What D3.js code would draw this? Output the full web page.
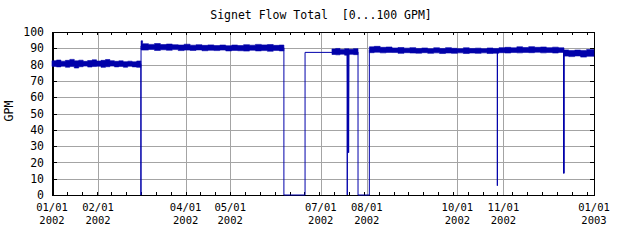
<!DOCTYPE html>
<html>
<head>
<meta charset="utf-8">
<script src="https://cdn.jsdelivr.net/npm/d3@7"></script>
<style>
body { margin: 0; background: #fff; }
text { font-family: "DejaVu Sans Mono", monospace; font-size: 11.5px; fill: #000; }
text.date { font-size: 10.5px; }
</style>
</head>
<body>
<div id="chart"></div>
<script>
var title = "Signet Flow Total  [0...100 GPM]";
var yLabel = "GPM";
var yTicks = [0, 10, 20, 30, 40, 50, 60, 70, 80, 90, 100];
var xLabelDates = ["2002-01-01", "2002-02-01", "2002-04-01", "2002-05-01", "2002-07-01",
                   "2002-08-01", "2002-10-01", "2002-11-01", "2003-01-01"];

// noisy envelope of each running period: [date, low, high]
var bandA = [
    ["2002-01-01", 78.9, 82.4], ["2002-01-04", 78.6, 82.8], ["2002-01-07", 79.0, 82.1],
    ["2002-01-10", 78.4, 82.6], ["2002-01-13", 78.8, 83.2], ["2002-01-16", 77.9, 82.3],
    ["2002-01-19", 78.7, 82.7], ["2002-01-22", 79.1, 82.0], ["2002-01-25", 78.5, 82.5],
    ["2002-01-28", 78.8, 82.9], ["2002-01-31", 79.0, 82.2], ["2002-02-03", 78.3, 82.6],
    ["2002-02-06", 78.7, 83.1], ["2002-02-09", 79.1, 82.4], ["2002-02-12", 78.6, 82.0],
    ["2002-02-15", 78.9, 82.3], ["2002-02-18", 78.4, 81.8], ["2002-02-21", 79.0, 82.1],
    ["2002-02-24", 78.6, 81.7], ["2002-02-27", 78.3, 82.2], ["2002-03-01 20", 78.3, 82.2]
];
var bandB = [
    ["2002-03-01 23", 89.0, 94.6], ["2002-03-03", 88.9, 92.8], ["2002-03-07", 89.3, 92.4],
    ["2002-03-11", 88.7, 92.9], ["2002-03-15", 89.1, 92.3], ["2002-03-19", 88.8, 92.6],
    ["2002-03-23", 89.2, 92.2], ["2002-03-27", 88.6, 92.0], ["2002-03-31", 88.9, 92.5],
    ["2002-04-04", 88.7, 91.9], ["2002-04-08", 89.0, 92.2], ["2002-04-12", 88.5, 91.8],
    ["2002-04-16", 88.8, 92.1], ["2002-04-20", 88.6, 91.7], ["2002-04-24", 88.9, 92.0],
    ["2002-04-28", 88.4, 91.6], ["2002-05-02", 88.7, 92.0], ["2002-05-06", 88.5, 91.7],
    ["2002-05-10", 88.3, 92.2], ["2002-05-14", 88.8, 91.9], ["2002-05-18", 88.4, 92.4],
    ["2002-05-22", 88.6, 92.1], ["2002-05-26", 88.2, 92.3], ["2002-05-30", 88.7, 91.8],
    ["2002-06-03", 88.4, 92.0], ["2002-06-06 04", 88.4, 92.0]
];
var bandC = [
    ["2002-07-08 13", 86.2, 89.6], ["2002-07-11", 86.0, 89.9], ["2002-07-14", 86.4, 89.3],
    ["2002-07-17", 85.8, 89.7], ["2002-07-20", 86.3, 89.4], ["2002-07-23", 86.1, 89.8],
    ["2002-07-26 02", 86.1, 89.8]
];
var bandD = [
    ["2002-08-02 17", 87.3, 90.9], ["2002-08-06", 87.6, 91.2], ["2002-08-10", 87.2, 90.6],
    ["2002-08-14", 87.5, 90.8], ["2002-08-18", 87.4, 90.2], ["2002-08-22", 86.9, 90.5],
    ["2002-08-26", 87.3, 90.1], ["2002-08-30", 87.1, 90.4], ["2002-09-03", 87.0, 89.9],
    ["2002-09-07", 87.3, 90.2], ["2002-09-11", 86.9, 89.8], ["2002-09-15", 87.2, 90.3],
    ["2002-09-19", 86.8, 89.9], ["2002-09-23", 87.1, 90.4], ["2002-09-27", 86.9, 90.0],
    ["2002-10-01", 87.2, 89.8], ["2002-10-05", 86.8, 90.3], ["2002-10-09", 87.1, 89.9],
    ["2002-10-13", 86.9, 90.1], ["2002-10-17", 87.2, 89.8], ["2002-10-21", 86.8, 90.2],
    ["2002-10-25", 87.0, 89.9], ["2002-10-29", 87.3, 90.4], ["2002-11-02", 87.1, 90.6],
    ["2002-11-06", 87.4, 90.3], ["2002-11-10", 87.2, 90.9], ["2002-11-14", 87.5, 90.5],
    ["2002-11-18", 87.3, 91.0], ["2002-11-22", 87.6, 90.6], ["2002-11-26", 87.2, 90.8],
    ["2002-11-30", 87.4, 90.4], ["2002-12-04", 87.1, 90.7], ["2002-12-08", 87.5, 90.3],
    ["2002-12-11 19", 87.5, 90.3]
];
var bandE = [
    ["2002-12-11 19", 85.2, 89.0], ["2002-12-15", 84.9, 88.6], ["2002-12-19", 85.3, 88.9],
    ["2002-12-23", 84.6, 88.7], ["2002-12-27", 85.1, 89.2], ["2003-01-01", 85.1, 89.2]
];

// trend line with shutdowns and dropouts: [date, GPM]
var flowLine = [
    ["2002-01-01", 80.5], ["2002-03-01 20", 80.5], ["2002-03-01 20", 0],
    ["2002-03-01 23", 0], ["2002-03-01 23", 91.5], ["2002-06-06 04", 90.3],
    ["2002-06-06 04", 0], ["2002-06-20 10", 0], ["2002-06-20 10", 87.5],
    ["2002-07-08 13", 87.5], ["2002-07-18 20", 87.8], ["2002-07-18 20", 0],
    ["2002-07-18 21", 87.8], ["2002-07-19 06", 26], ["2002-07-19 12", 87.8],
    ["2002-07-19 18", 26], ["2002-07-20 00", 87.8], ["2002-07-26 02", 87.8],
    ["2002-07-26 02", 0], ["2002-08-02 17", 0], ["2002-08-02 17", 89.0],
    ["2002-10-27 22", 88.6], ["2002-10-27 22", 5.7], ["2002-10-27 23", 88.6],
    ["2002-12-11 12", 88.9], ["2002-12-11 13", 13.3], ["2002-12-11 16", 87.0],
    ["2002-12-11 19", 13.3], ["2002-12-11 20", 87.0], ["2003-01-01", 87.0]
];

var parseDay = d3.utcParse("%Y-%m-%d"), parseHour = d3.utcParse("%Y-%m-%d %H");
function parse(s) { return s.length > 10 ? parseHour(s) : parseDay(s); }

var width = 640, height = 240;
var plot = {left: 52, right: 594, top: 32, bottom: 195};
var start = parse("2002-01-01"), end = parse("2003-01-01");

var x = d3.scaleUtc().domain([start, end]).range([plot.left, plot.right]);
var y = d3.scaleLinear().domain([0, 100]).range([plot.bottom, plot.top]);

var svg = d3.select('#chart')
    .append('svg')
    .attr('width', width)
    .attr('height', height)
    .style('background', '#fff');

var blue = '#0000aa';

// grid
var gridDates = xLabelDates.slice(1, -1).map(parse);
svg.append('g')
    .attr('transform', 'translate(0,' + plot.bottom + ')')
    .call(d3.axisBottom(x).tickValues(gridDates).tickSize(-(plot.bottom - plot.top)).tickFormat(''))
    .call(function(g) { g.select('.domain').remove(); g.selectAll('.tick text').remove(); })
    .selectAll('line').attr('stroke', '#a4a4a4').attr('shape-rendering', 'crispEdges');
svg.append('g')
    .attr('transform', 'translate(' + plot.left + ',0)')
    .call(d3.axisRight(y).tickValues(yTicks.slice(1, -1)).tickSize(plot.right - plot.left).tickFormat(''))
    .call(function(g) { g.select('.domain').remove(); g.selectAll('.tick text').remove(); })
    .selectAll('line').attr('stroke', '#a4a4a4').attr('shape-rendering', 'crispEdges');

// small ticks every 10 days on top and bottom
var tenDays = d3.range(0, 366, 10).map(function(i) { return d3.utcDay.offset(start, i); });
svg.append('g')
    .attr('class', 'axis')
    .attr('transform', 'translate(0,' + plot.bottom + ')')
    .call(d3.axisBottom(x).tickValues(tenDays).tickSize(-3).tickSizeOuter(0).tickFormat(''));
svg.append('g')
    .attr('class', 'axis')
    .attr('transform', 'translate(0,' + plot.top + ')')
    .call(d3.axisTop(x).tickValues(tenDays).tickSize(-3).tickSizeOuter(0).tickFormat(''));

svg.append('g')
    .attr('class', 'axis')
    .attr('transform', 'translate(' + plot.left + ',0)')
    .call(d3.axisLeft(y).tickValues(yTicks).tickSize(-5).tickSizeOuter(0).tickPadding(8))
    .call(function(g) { g.select('.domain').attr('stroke-width', 2); });
svg.append('g')
    .attr('class', 'axis')
    .attr('transform', 'translate(' + plot.right + ',0)')
    .call(d3.axisRight(y).tickValues(yTicks).tickSize(-4).tickSizeOuter(0).tickFormat(''));

// drop the empty labels left by the tick-only axes
svg.selectAll('.axis .tick text').filter(function() { return this.textContent === ''; }).remove();
svg.selectAll('.axis').attr('font-family', null).attr('font-size', null)
    .selectAll('line, path').attr('shape-rendering', 'crispEdges');

// two line date labels, as separate texts
var labDates = xLabelDates.map(parse);
svg.append('g').selectAll('text')
    .data(labDates)
    .enter()
    .append('text')
    .attr('class', 'date')
    .attr('text-anchor', 'middle')
    .attr('x', function(d) { return x(d); })
    .attr('y', plot.bottom + 16.3)
    .text(d3.utcFormat('%m/%d'));
svg.append('g').selectAll('text')
    .data(labDates)
    .enter()
    .append('text')
    .attr('class', 'date')
    .attr('text-anchor', 'middle')
    .attr('x', function(d) { return x(d); })
    .attr('y', plot.bottom + 28.6)
    .text(d3.utcFormat('%Y'));

svg.append('text')
    .attr('x', 321)
    .attr('y', 19)
    .attr('text-anchor', 'middle')
    .style('white-space', 'pre')
    .text(title);

svg.append('text')
    .attr('transform', 'translate(13,' + 111 + ') rotate(-90)')
    .attr('text-anchor', 'middle')
    .text(yLabel);

// data
var band = d3.area()
    .x(function(d) { return x(parse(d[0])); })
    .y0(function(d) { return y(d[1]); })
    .y1(function(d) { return y(d[2]); })
    .curve(d3.curveStepAfter);
var line = d3.line()
    .x(function(d) { return x(parse(d[0])); })
    .y(function(d) { return y(d[1]); });

svg.append('path')
    .datum(flowLine)
    .attr('d', line)
    .attr('fill', 'none')
    .attr('stroke', blue)
    .attr('stroke-width', 1);

svg.selectAll('.band')
    .data([bandA, bandB, bandC, bandD, bandE])
    .enter()
    .append('path')
    .attr('class', 'band')
    .attr('d', band)
    .attr('fill', blue)
    .attr('stroke', blue)
    .attr('stroke-width', 0.6);
</script>
</body>
</html>
